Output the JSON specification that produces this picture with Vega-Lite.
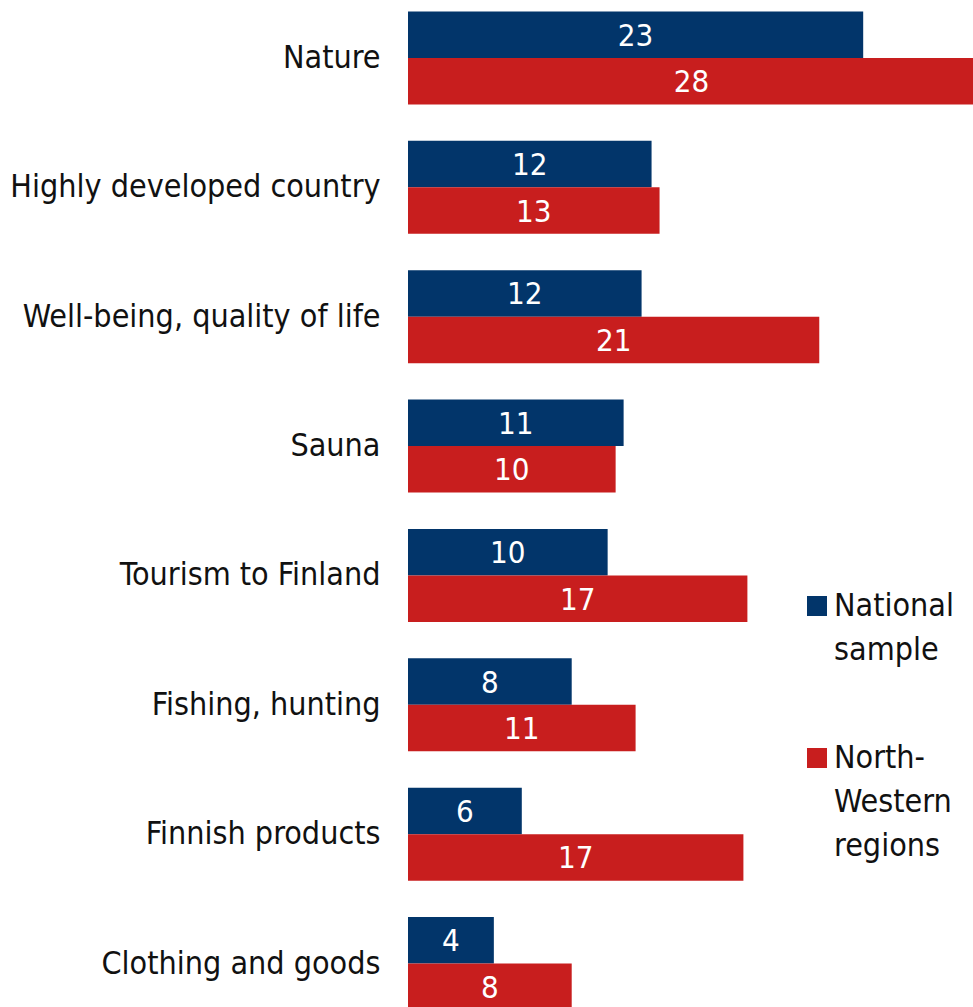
{
  "$schema": "https://vega.github.io/schema/vega-lite/v6.json",
  "width": 565,
  "height": 1007,
  "autosize": {"type": "none"},
  "padding": {"left": 408, "top": 0, "right": 0, "bottom": 0},
  "config": {
    "view": {"stroke": null},
    "font": "DejaVu Sans Condensed",
    "style": {"guide-label": {"lineHeight": 44}}
  },
  "data": {
    "values": [
      {"category": "Nature", "series": "National sample", "value": 22.8},
      {"category": "Nature", "series": "North-Western regions", "value": 28.4},
      {"category": "Highly developed country", "series": "National sample", "value": 12.2},
      {"category": "Highly developed country", "series": "North-Western regions", "value": 12.6},
      {"category": "Well-being, quality of life", "series": "National sample", "value": 11.7},
      {"category": "Well-being, quality of life", "series": "North-Western regions", "value": 20.6},
      {"category": "Sauna", "series": "National sample", "value": 10.8},
      {"category": "Sauna", "series": "North-Western regions", "value": 10.4},
      {"category": "Tourism to Finland", "series": "National sample", "value": 10.0},
      {"category": "Tourism to Finland", "series": "North-Western regions", "value": 17.0},
      {"category": "Fishing, hunting", "series": "National sample", "value": 8.2},
      {"category": "Fishing, hunting", "series": "North-Western regions", "value": 11.4},
      {"category": "Finnish products", "series": "National sample", "value": 5.7},
      {"category": "Finnish products", "series": "North-Western regions", "value": 16.8},
      {"category": "Clothing and goods", "series": "National sample", "value": 4.3},
      {"category": "Clothing and goods", "series": "North-Western regions", "value": 8.2}
    ]
  },
  "encoding": {
    "y": {
      "field": "category",
      "type": "nominal",
      "sort": null,
      "scale": {"range": [-6.7, 1028.2], "paddingInner": 0.281, "paddingOuter": 0.1405},
      "axis": {
        "title": null,
        "domain": false,
        "ticks": false,
        "labelFontSize": 32,
        "labelPadding": 28,
        "labelColor": "#111111",
        "labelLimit": 0
      }
    },
    "yOffset": {"field": "series", "sort": null, "scale": {"paddingInner": 0, "paddingOuter": 0}}
  },
  "layer": [
    {
      "mark": {"type": "bar", "clip": true},
      "encoding": {
        "x": {"field": "value", "type": "quantitative", "scale": {"domain": [0, 28.3], "nice": false}, "axis": null},
        "color": {
          "field": "series",
          "type": "nominal",
          "scale": {"domain": ["National sample", "North-Western regions"], "range": ["#02356A", "#C81E1E"]},
          "legend": {
            "orient": "none",
            "legendX": 393,
            "legendY": 590,
            "title": null,
            "symbolType": "square",
            "symbolSize": 400,
            "symbolStrokeWidth": 0,
            "symbolOpacity": 1,
            "labelFontSize": 32,
            "labelColor": "#111111",
            "labelBaseline": "middle",
            "labelOffset": 1,
            "labelLimit": 0,
            "rowPadding": 76,
            "labelExpr": "datum.label == 'National sample' ? ['National', 'sample'] : ['North-', 'Western', 'regions']"
          }
        }
      }
    },
    {
      "mark": {"type": "text", "color": "white", "fontSize": 31, "baseline": "middle", "align": "center", "dy": 2, "clip": true},
      "encoding": {
        "x": {"field": "value", "type": "quantitative", "scale": {"domain": [0, 56.6], "nice": false}, "axis": null},
        "text": {"field": "value", "type": "quantitative", "format": ".0f"}
      }
    }
  ],
  "resolve": {"scale": {"x": "independent"}}
}
